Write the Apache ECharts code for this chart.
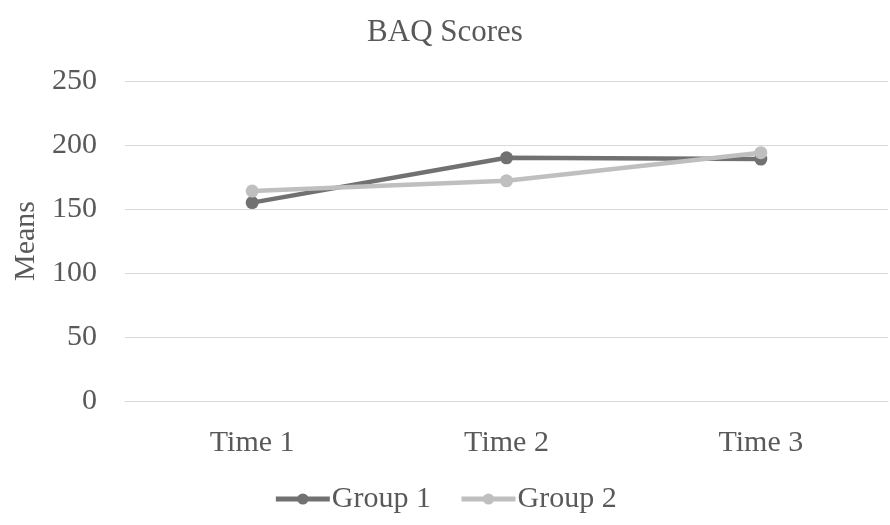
<!DOCTYPE html>
<html><head><meta charset="utf-8">
<script src="https://cdn.jsdelivr.net/npm/echarts@6/dist/echarts.min.js"></script>
<style>html,body{margin:0;padding:0;background:#fff}#c{width:890px;height:525px}</style>
</head><body><div id="c"></div>
<script>
const categories = ["Time 1", "Time 2", "Time 3"];
const group1 = [155, 190, 189];
const group2 = [164, 172, 194];
const yTicks = [0, 50, 100, 150, 200, 250];

const font = "Liberation Serif";
const txt = '#595959';
const chart = echarts.init(document.getElementById('c'));
chart.setOption({
  animation: false,
  title: { text: "BAQ Scores", left: 'center', top: 12, textStyle: { fontFamily: font, fontSize: 31, fontWeight: 'normal', color: txt } },
  legend: {
    bottom: 6, left: 'center', itemWidth: 54, itemHeight: 14, itemGap: 28,
    textStyle: { fontFamily: font, fontSize: 30, color: txt, padding: [0, 0, 0, -3] },
    data: [
      { name: "Group 1", lineStyle: { width: 5 } },
      { name: "Group 2", lineStyle: { width: 5 } }
    ]
  },
  grid: { left: 125, right: 2, top: 81, bottom: 124, containLabel: false, outerBoundsMode: 'none' },
  xAxis: {
    type: 'category', data: categories, boundaryGap: true,
    axisLine: { show: true, lineStyle: { color: '#d9d9d9', width: 1 } },
    axisTick: { show: false },
    axisLabel: { fontFamily: font, fontSize: 30, color: txt, margin: 27 }
  },
  yAxis: {
    type: 'value', min: yTicks[0], max: yTicks[yTicks.length - 1], interval: 50,
    name: "Means", nameLocation: 'middle', nameGap: 84, nameRotate: 90,
    nameTextStyle: { fontFamily: font, fontSize: 30, color: txt },
    axisLine: { show: false }, axisTick: { show: false },
    splitLine: { lineStyle: { color: '#d9d9d9', width: 1 } },
    axisLabel: { fontFamily: font, fontSize: 30, color: txt, margin: 28 }
  },
  series: [
    { name: "Group 1", type: 'line', data: group1, symbol: 'circle', symbolSize: 13,
      lineStyle: { color: '#717171', width: 4.5 }, itemStyle: { color: '#717171' } },
    { name: "Group 2", type: 'line', data: group2, symbol: 'circle', symbolSize: 13,
      lineStyle: { color: '#bfbfbf', width: 4.5 }, itemStyle: { color: '#bfbfbf' } }
  ]
});
</script></body></html>
